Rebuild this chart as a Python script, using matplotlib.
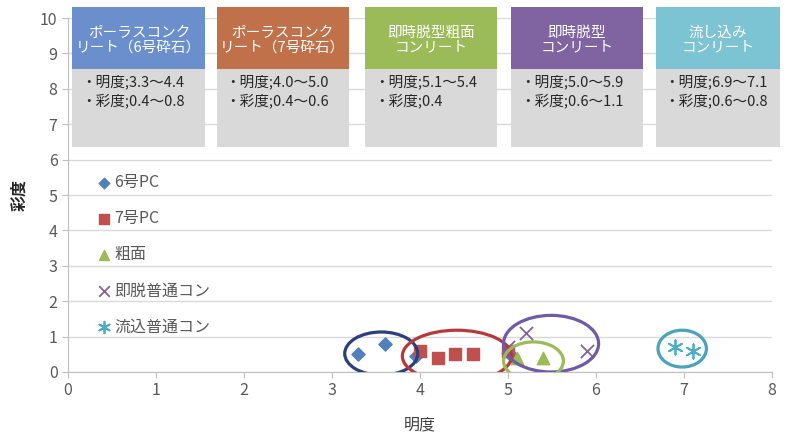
import matplotlib
matplotlib.use('Agg')
import matplotlib.pyplot as plt
from matplotlib.patches import Ellipse, Rectangle

plt.rcParams['font.family'] = ['Noto Sans CJK JP', 'DejaVu Sans']

# data (明度, 彩度)
pc6_x = [3.3, 3.6, 3.95, 5.05]
pc6_y = [0.5, 0.8, 0.45, 0.45]
pc7_x = [4.0, 4.2, 4.4, 4.6, 5.0]
pc7_y = [0.6, 0.4, 0.5, 0.5, 0.6]
rough_x = [5.1, 5.4]
rough_y = [0.4, 0.4]
sokudatsu_x = [5.0, 5.2, 5.9]
sokudatsu_y = [0.7, 1.1, 0.6]
nagashi_x = [6.9, 7.1]
nagashi_y = [0.7, 0.6]

series_labels = ['6号PC', '7号PC', '粗面', '即脱普通コン', '流込普通コン']

# ellipses drawn around each group: centre x, centre y, width, height
ell_cx = [3.56, 4.42, 5.49, 5.29, 6.98]
ell_cy = [0.52, 0.45, 0.80, 0.31, 0.66]
ell_w = [0.83, 1.24, 1.08, 0.68, 0.55]
ell_h = [1.22, 1.46, 1.60, 1.08, 1.04]
ell_colors = ['#2b3f7e', '#b8383a', '#6f5aa6', '#9bbb59', '#4aa3bd']

# info boxes at the top
box_titles = ['ポーラスコンク\nリート（6号砕石）', 'ポーラスコンク\nリート（7号砕石）',
              '即時脱型粗面\nコンリート', '即時脱型\nコンリート', '流し込み\nコンリート']
box_texts = ['・明度;3.3～4.4\n・彩度;0.4～0.8', '・明度;4.0～5.0\n・彩度;0.4～0.6',
             '・明度;5.1～5.4\n・彩度;0.4', '・明度;5.0～5.9\n・彩度;0.6～1.1',
             '・明度;6.9～7.1\n・彩度;0.6～0.8']
box_left = [0.05, 1.69, 3.38, 5.04, 6.68]
box_right = [1.56, 3.19, 4.88, 6.53, 8.09]
box_colors = ['#6a8fcc', '#c0714a', '#9bbb59', '#8064a2', '#7cc4d4']

fig = plt.figure(figsize=(7.95, 4.41), dpi=100)
ax = fig.add_axes([0.0855, 0.1565, 0.8855, 0.8025])

ax.set_xlim(0, 8)
ax.set_ylim(0, 10)
ax.set_xticks(range(0, 9))
ax.set_yticks(range(0, 11))
ax.grid(axis='y', color='#d9d9d9', linewidth=1)
ax.set_axisbelow(True)
for s in ['top', 'right']:
    ax.spines[s].set_visible(False)
for s in ['left', 'bottom']:
    ax.spines[s].set_color('#bfbfbf')
ax.tick_params(colors='#bfbfbf', labelcolor='#595959', labelsize=11.5, length=4)
ax.set_xlabel('明度', fontsize=11.5, color='#404040', labelpad=12)
ax.set_ylabel('彩度', fontsize=11.5, color='#262626', fontweight='bold', labelpad=9)

ax.scatter(pc6_x, pc6_y, marker='D', s=45, color='#4f81bd', label=series_labels[0], zorder=3)
ax.scatter(pc7_x, pc7_y, marker='s', s=80, color='#c0504d', label=series_labels[1], zorder=3)
ax.scatter(rough_x, rough_y, marker='^', s=80, color='#9bbb59', label=series_labels[2], zorder=3)
ax.scatter(sokudatsu_x, sokudatsu_y, marker='x', s=90, color='#8064a2', linewidths=1.3,
           label=series_labels[3], zorder=3)
ax.scatter(nagashi_x, nagashi_y, marker=(6, 2, 0), s=110, color='#4bacc6', linewidths=1.3,
           label=series_labels[4], zorder=3)

for cx, cy, w, h, c in zip(ell_cx, ell_cy, ell_w, ell_h, ell_colors):
    ax.add_patch(Ellipse((cx, cy), w, h, fill=False, edgecolor=c, linewidth=2.3, zorder=4))

leg = ax.legend(loc='upper left', bbox_to_anchor=(0.02, 0.6), frameon=False,
                fontsize=11.5, labelspacing=1.2, handletextpad=0.1, handlelength=1.0,
                markerscale=0.8)
for t in leg.get_texts():
    t.set_color('#595959')

# top boxes (header + gray body)
head_top, head_bot, body_bot = 10.31, 8.55, 6.36
for i in range(len(box_titles)):
    x0, x1 = box_left[i], box_right[i]
    ax.add_patch(Rectangle((x0, head_bot), x1 - x0, head_top - head_bot,
                           facecolor=box_colors[i], edgecolor='none', clip_on=False, zorder=2))
    ax.add_patch(Rectangle((x0, body_bot), x1 - x0, head_bot - body_bot,
                           facecolor='#d9d9d9', edgecolor='none', clip_on=False, zorder=2))
    ax.text((x0 + x1) / 2, (head_top + head_bot) / 2 - 0.05, box_titles[i], color='white',
            ha='center', va='center', fontsize=10.5, linespacing=1.05, zorder=5, clip_on=False)
    ax.text(x0 + 0.1, head_bot - 0.15, box_texts[i], color='#262626', ha='left', va='top',
            fontsize=10.5, linespacing=1.35, zorder=5)

fig.savefig('out.png', dpi=100)
